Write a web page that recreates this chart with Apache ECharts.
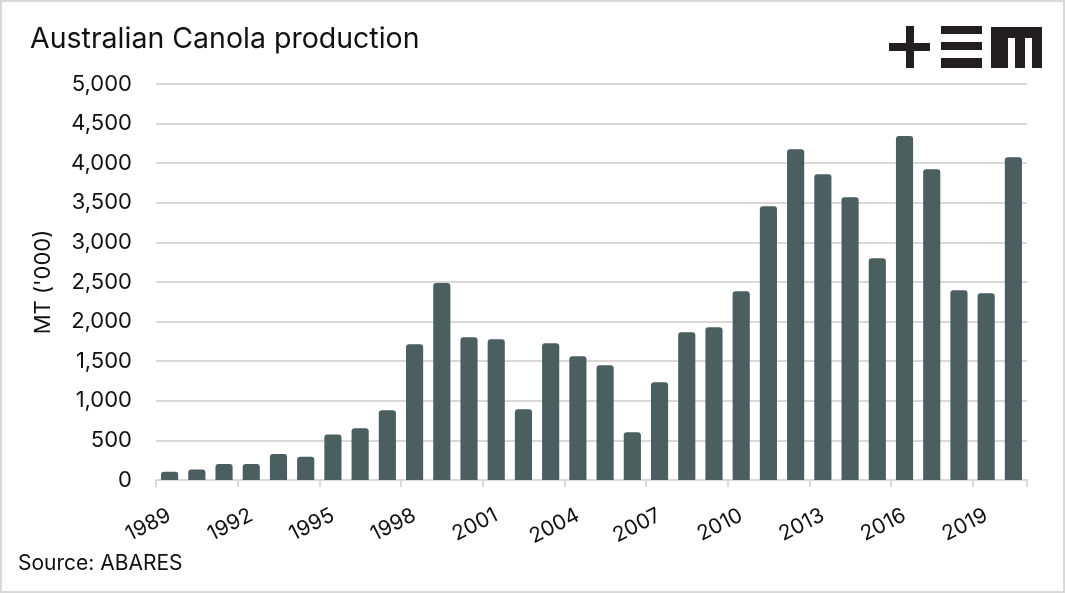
<!DOCTYPE html>
<html>
<head>
<meta charset="utf-8">
<script src="https://cdn.jsdelivr.net/npm/echarts@6/dist/echarts.min.js"></script>
<style>
html,body{margin:0;padding:0;background:#fff;}
#chart{width:1065px;height:593px;box-sizing:border-box;border:2px solid #d9d9d9;}
</style>
</head>
<body>
<div id="chart"></div>
<script>
const years = ['1989','1990','1991','1992','1993','1994','1995','1996','1997','1998','1999','2000','2001','2002','2003','2004','2005','2006','2007','2008','2009','2010','2011','2012','2013','2014','2015','2016','2017','2018','2019','2020'];
const production = [105,131,202,202,328,295,575,652,880,1713,2487,1801,1776,892,1726,1561,1448,602,1233,1864,1928,2382,3455,4175,3860,3569,2799,4343,3923,2395,2357,4074];
const yTicks = {min:0, max:5000, interval:500};

const chart = echarts.init(document.getElementById('chart'), null, {renderer:'canvas'});
const font = 'Inter, "Noto Sans", sans-serif';
const ink = '#111';
chart.setOption({
  animation:false,
  textStyle:{fontFamily:font},
  grid:{left:154, right:36, top:82, bottom:111, containLabel:false},
  graphic:[
    {type:'text', left:28, top:23, style:{text:'Australian Canola production', font:'400 28.5px '+font, fill:ink}},
    {type:'text', left:16, top:551, style:{text:'Source: ABARES', font:'400 21px '+font, fill:ink}},
    // logo
    {type:'rect', shape:{x:887,y:41,width:41,height:8}, style:{fill:'#231f20'}},
    {type:'rect', shape:{x:904,y:24,width:8,height:42}, style:{fill:'#231f20'}},
    {type:'rect', shape:{x:939,y:24,width:41,height:8}, style:{fill:'#231f20'}},
    {type:'rect', shape:{x:939,y:40,width:41,height:8}, style:{fill:'#231f20'}},
    {type:'rect', shape:{x:939,y:56,width:41,height:10}, style:{fill:'#231f20'}},
    {type:'rect', shape:{x:989,y:25,width:51,height:11}, style:{fill:'#231f20'}},
    {type:'rect', shape:{x:989,y:25,width:17,height:41}, style:{fill:'#231f20'}},
    {type:'rect', shape:{x:1013,y:25,width:10,height:41}, style:{fill:'#231f20'}},
    {type:'rect', shape:{x:1030,y:25,width:10,height:41}, style:{fill:'#231f20'}}
  ],
  xAxis:{
    type:'category', data:years, boundaryGap:true,
    axisLine:{lineStyle:{color:'#d9d9d9', width:2}},
    axisTick:{show:true, interval:2, length:7, lineStyle:{color:'#d9d9d9', width:2}},
    axisLabel:{interval:2, rotate:27, margin:34, fontSize:21, color:ink, fontFamily:font}
  },
  yAxis:{
    type:'value', min:yTicks.min, max:yTicks.max, interval:yTicks.interval,
    name:"MT ('000)", nameLocation:'middle', nameGap:102,
    nameTextStyle:{fontSize:22, color:ink, fontFamily:font},
    axisLine:{show:false}, axisTick:{show:false},
    axisLabel:{margin:24, fontSize:22, color:ink, fontFamily:font,
      formatter:v=>v.toLocaleString('en-US')},
    splitLine:{lineStyle:{color:'#d9d9d9', width:2}}
  },
  series:[{
    type:'bar', data:production, barCategoryGap:'37%',
    itemStyle:{color:'#4b5e60', borderRadius:[3,3,0,0]}
  }]
});
</script>
</body>
</html>
